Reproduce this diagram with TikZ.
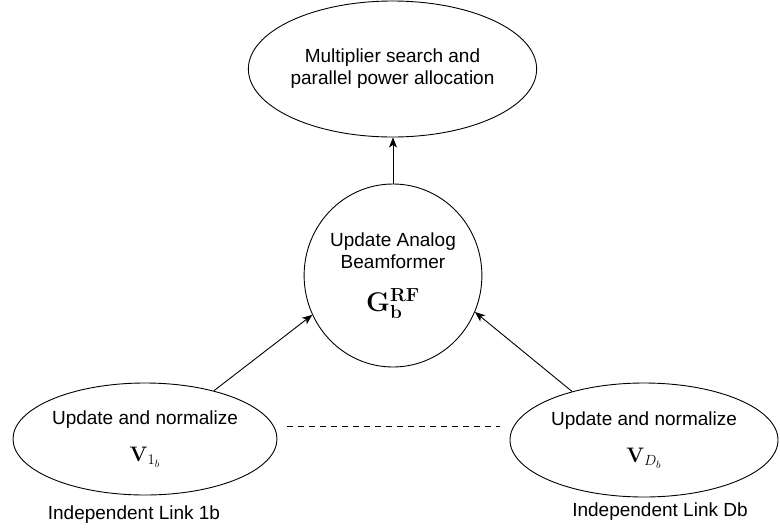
\RequirePackage{fix-cm}
\documentclass[tikz,border=0pt]{standalone}
\usepackage[no-math]{fontspec}
\setmainfont{Liberation Sans}
\usetikzlibrary{shapes.geometric,arrows.meta}
\newcommand{\mathsz}[2]{{\fontsize{#1}{#1}\selectfont$#2$}}
\begin{document}
\begin{tikzpicture}[x=1pt,y=-1pt,
  ell/.style={draw,ellipse,line width=0.9pt,inner sep=0pt,align=center,
    font=\fontsize{19}{22}\selectfont},
  lbl/.style={font=\fontsize{19}{22}\selectfont,inner sep=0pt},
  arr/.style={line width=0.9pt,-{Stealth[length=10pt,width=8pt,inset=2.5pt]}}]
\useasboundingbox (0,0) rectangle (780,531);
\node[ell,minimum width=255pt,minimum height=136pt] (top) at (392.5,69)
  {Multiplier search and\\parallel power allocation};
\node[ell,minimum width=160pt,minimum height=183pt] (mid) at (393,275.5)
  {Update Analog\\Beamformer\\[19pt]\mathsz{27}{\mathbf{G}_{\mathbf{b}}^{\mathbf{RF}}}};
\node[ell,minimum width=264pt,minimum height=112pt] (bl) at (145,439)
  {Update and normalize\\[15pt]\mathsz{21}{\mathbf{V}_{1_b}}};
\node[ell,minimum width=268pt,minimum height=114pt] (br) at (644,440)
  {Update and normalize\\[15pt]\mathsz{21}{\mathbf{V}_{D_b}}};
\node[lbl] (l1) at (134,515) {Independent Link 1b};
\node[lbl] (l2) at (660,512) {Independent Link Db};
\coordinate (dl) at (287,426);
\coordinate (dr) at (500,426);
\draw[arr] (mid.north) -- (mid.north |- top.south);
\draw[arr] (bl.35) -- (mid.206);
\draw[arr] (br.146) -- (mid.336);
\draw[line width=0.9pt,dash pattern=on 6pt off 5pt] (dl) -- (dr);
\end{tikzpicture}
\end{document}
